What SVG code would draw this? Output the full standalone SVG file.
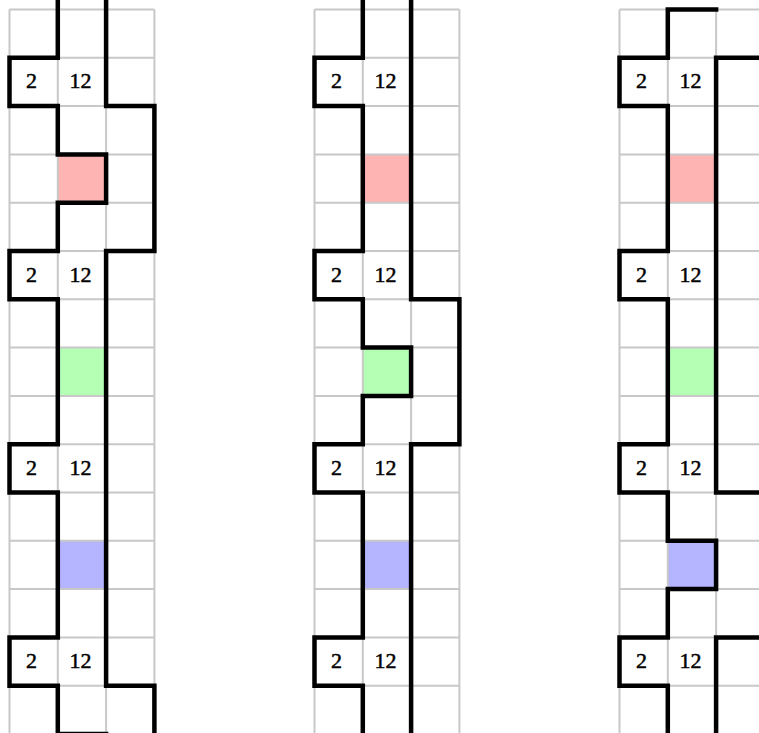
<svg xmlns="http://www.w3.org/2000/svg" xmlns:xlink="http://www.w3.org/1999/xlink" width="759" height="733" viewBox="0 0 759 733">
<style>
.grid{fill:none;stroke:#c8c8c8;stroke-width:2}
.wall{fill:none;stroke:#000;stroke-width:4.5;stroke-linejoin:miter;stroke-linecap:square}
.num{font-family:"Liberation Serif",serif;font-size:22px;fill:#000;stroke:#000;stroke-width:0.5;text-anchor:middle}
.r{fill:#ffb4b4}.g{fill:#b4ffb4}.b{fill:#b4b4ff}
</style>
<defs>
<g id="base">
<rect class="r" x="48.3" y="144.9" width="48.3" height="48.3"/>
<rect class="g" x="48.3" y="338.1" width="48.3" height="48.3"/>
<rect class="b" x="48.3" y="531.3" width="48.3" height="48.3"/>
<path class="grid" d="M0,0V740M48.3,0V740M96.6,0V740M144.9,0V740M0,0H144.9M0,48.3H144.9M0,96.6H144.9M0,144.9H144.9M0,193.2H144.9M0,241.5H144.9M0,289.8H144.9M0,338.1H144.9M0,386.4H144.9M0,434.7H144.9M0,483H144.9M0,531.3H144.9M0,579.6H144.9M0,627.9H144.9M0,676.2H144.9M0,724.5H144.9"/>
<g class="num">
<text x="22" y="78.8">2</text><text x="71" y="78.8">12</text>
<text x="22" y="272">2</text><text x="71" y="272">12</text>
<text x="22" y="465.2">2</text><text x="71" y="465.2">12</text>
<text x="22" y="658.4">2</text><text x="71" y="658.4">12</text>
</g>
</g>
</defs>
<g id="column1" transform="translate(9.5,9.5)">
<use xlink:href="#base"/>
<g id="walls1">
<path class="wall" d="M48.3,-12V48.3H0V96.6H48.3V144.9H96.6V193.2H48.3V241.5H0V289.8H48.3V434.7H0V483H48.3V627.9H0V676.2H48.3V724.5H96.6V740"/>
<path class="wall" d="M96.6,-12V96.6H144.9V241.5H96.6V676.2H144.9V740"/>
</g>
</g>
<g id="column2" transform="translate(314.5,9.5)">
<use xlink:href="#base"/>
<g id="walls2">
<path class="wall" d="M48.3,-12V48.3H0V96.6H48.3V241.5H0V289.8H48.3V338.1H96.6V386.4H48.3V434.7H0V483H48.3V627.9H0V676.2H48.3V740"/>
<path class="wall" d="M96.6,-12V289.8H144.9V434.7H96.6V740"/>
</g>
</g>
<g id="column3" transform="translate(619.5,9.5)">
<use xlink:href="#base"/>
<g id="walls3">
<path class="wall" d="M96.6,0H48.3V48.3H0V96.6H48.3V241.5H0V289.8H48.3V434.7H0V483H48.3V531.3H96.6V579.6H48.3V627.9H0V676.2H48.3V740"/>
<path class="wall" d="M144.9,-12V48.3H96.6V483H144.9V627.9H96.6V740"/>
</g>
</g>
</svg>
